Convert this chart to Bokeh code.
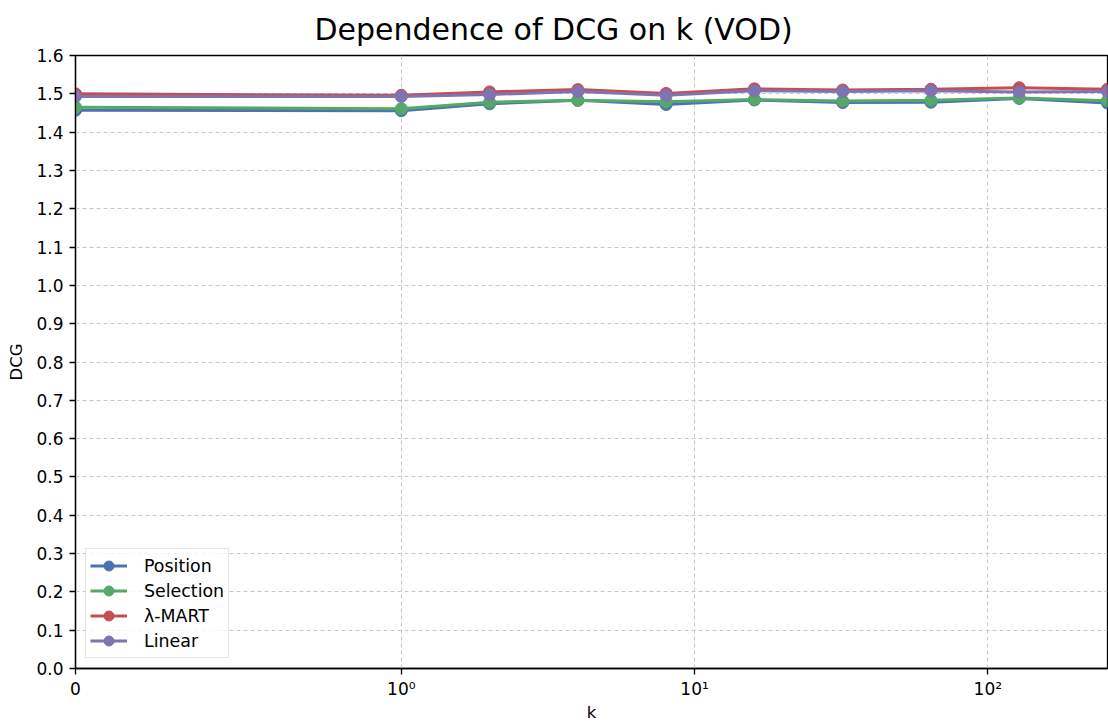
import math
from bokeh.plotting import figure
from bokeh.models import (ColumnDataSource, Legend, LegendItem, FixedTicker,
                          Range1d, PrintfTickFormatter)
from bokeh.embed import file_html
from bokeh.resources import INLINE

# ---- data ----
k_values = [0, 1, 2, 4, 8, 16, 32, 64, 128, 256]
position = [1.457, 1.456, 1.474, 1.483, 1.472, 1.484, 1.477, 1.478, 1.488, 1.476]
selection = [1.465, 1.461, 1.478, 1.483, 1.479, 1.485, 1.481, 1.483, 1.489, 1.482]
lambda_mart = [1.500, 1.496, 1.505, 1.511, 1.501, 1.513, 1.510, 1.512, 1.516, 1.512]
linear = [1.493, 1.493, 1.498, 1.506, 1.496, 1.508, 1.506, 1.508, 1.505, 1.506]

series_names = ["Position", "Selection", "λ-MART", "Linear"]
series_values = [position, selection, lambda_mart, linear]
series_colors = ["#4C72B0", "#55A868", "#C44E52", "#8172B2"]

x_tick_values = [0, 1, 10, 100]
x_tick_labels = ["0", "10⁰", "10¹", "10²"]
y_tick_values = [round(i * 0.1, 1) for i in range(17)]

# symmetric-log transform (linthresh=1, linscale=1, base 10), as matplotlib's symlog
LINSCALE_ADJ = 1.0 / (1.0 - 1.0 / 10.0)


def symlog(v):
    a = abs(v)
    if a <= 1.0:
        t = a * LINSCALE_ADJ
    else:
        t = LINSCALE_ADJ + math.log10(a)
    return math.copysign(t, v) if v != 0 else 0.0


FONT = "DejaVu Sans"

p = figure(width=1108, height=725, output_backend="svg", toolbar_location=None,
           x_range=Range1d(symlog(0), symlog(256)), y_range=Range1d(0, 1.6),
           min_border_left=75, min_border_right=1, min_border_top=54,
           min_border_bottom=57)

p.title.text = "Dependence of DCG on k (VOD)"
p.title.text_font = FONT
p.title.text_font_size = "30px"
p.title.text_font_style = "normal"
p.title.align = "left"
p.title.offset = 239
p.title.standoff = 18
p.title.text_color = "black"

xs = [symlog(v) for v in k_values]
renderers = []
for name, vals, col in zip(series_names, series_values, series_colors):
    src = ColumnDataSource(dict(x=xs, y=vals))
    lr = p.line("x", "y", source=src, line_color=col, line_width=3)
    sr = p.scatter("x", "y", source=src, size=12, fill_color=col, line_color=col)
    renderers.append((name, lr, sr))

# axes
tick_pos = [symlog(v) for v in x_tick_values]
p.xaxis.ticker = FixedTicker(ticks=tick_pos)
p.xaxis.major_label_overrides = {t: lab for t, lab in zip(tick_pos, x_tick_labels)}
p.yaxis.ticker = FixedTicker(ticks=y_tick_values)
p.yaxis.formatter = PrintfTickFormatter(format="%.1f")

p.xaxis.axis_label = "k"
p.yaxis.axis_label = "DCG"
for ax in (p.xaxis, p.yaxis):
    ax.axis_label_text_font = FONT
    ax.axis_label_text_font_size = "16.5px"
    ax.axis_label_text_font_style = "normal"
    ax.axis_label_text_color = "black"
    ax.major_label_text_font = FONT
    ax.major_label_text_font_size = "17px"
    ax.major_label_text_color = "black"
    ax.axis_line_color = "black"
    ax.axis_line_width = 1.3
    ax.major_tick_line_color = "black"
    ax.major_tick_line_width = 1.3
    ax.major_tick_out = 6
    ax.major_tick_in = 0
    ax.minor_tick_line_color = None
    ax.major_label_standoff = 6
p.xaxis.major_label_standoff = 4
p.xaxis.axis_label_standoff = 1
p.yaxis.axis_label_standoff = 7

p.xgrid.ticker = FixedTicker(ticks=tick_pos)
p.ygrid.ticker = FixedTicker(ticks=y_tick_values)
for g in (p.xgrid, p.ygrid):
    g.grid_line_color = "#c8c8c8"
    g.grid_line_width = 1
    g.grid_line_dash = "4 3"

p.outline_line_color = "black"
p.outline_line_width = 1.3

legend = Legend(items=[LegendItem(label=n, renderers=[l, s]) for n, l, s in renderers],
                location="bottom_left")
legend.label_text_font = FONT
legend.label_text_font_size = "17.4px"
legend.label_text_color = "black"
legend.border_line_color = "#cccccc"
legend.border_line_width = 1
legend.background_fill_alpha = 0.8
legend.glyph_width = 37
legend.glyph_height = 25
legend.label_height = 25
legend.spacing = 0
legend.padding = 4
legend.margin = 10
legend.label_standoff = 17
p.add_layout(legend, "center")

open("out.html", "w").write(file_html(p, INLINE))
